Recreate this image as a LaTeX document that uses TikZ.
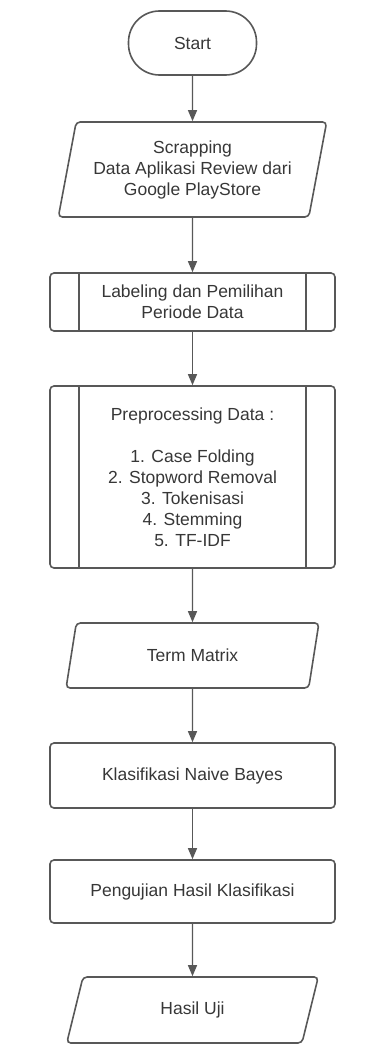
\documentclass[tikz,border=0pt]{standalone}
\usepackage{fontspec}
\setmainfont{Liberation Sans}
\usetikzlibrary{arrows.meta,shapes.geometric}
\definecolor{linec}{RGB}{88,88,88}
\definecolor{textc}{RGB}{55,55,55}

\begin{document}
\begin{tikzpicture}[x=1pt,y=1pt,font=\fontsize{17.5}{21}\selectfont,text=textc,
  >={Triangle[width=9pt,length=11pt]},
  term/.style={draw=linec,line width=1.6pt,rounded corners=31pt,minimum width=128pt,minimum height=64pt},
  io/.style={draw=linec,line width=1.6pt,trapezium,trapezium left angle=76,trapezium right angle=104,
             trapezium stretches=true,rounded corners=4pt,align=center,inner sep=2pt},
  proc/.style={draw=linec,line width=1.6pt,rounded corners=4pt,minimum width=285pt,align=center},
  sub/.style={proc,path picture={
     \draw[linec,line width=1.6pt]
       ([xshift=29pt]path picture bounding box.north west) -- ([xshift=29pt]path picture bounding box.south west)
       ([xshift=-29pt]path picture bounding box.north east) -- ([xshift=-29pt]path picture bounding box.south east);}},
  flow/.style={->,draw=linec,line width=1.3pt}]

\useasboundingbox (0,0) rectangle (368,-1057);

%============================== the flow ==============================
\node[term] (start) at (192.5,-43) {Start};
\node[io,minimum width=269pt,minimum height=95pt] (scrap) at (192.5,-169.5)
  {Scrapping\\Data Aplikasi Review dari\\Google PlayStore};
\node[sub,minimum height=58pt] (labeling) at (192.5,-302) {Labeling dan Pemilihan\\Periode Data};
\node[sub,minimum height=182pt] (prepro) at (192.5,-477) {Preprocessing Data :\\[21pt]
   1. Case Folding\\2. Stopword Removal\\3. Tokenisasi\\4. Stemming\\5. TF-IDF};
\node[io,minimum width=253pt,minimum height=65pt] (termmx) at (192.5,-655.5) {Term Matrix};
\node[proc,minimum height=65pt] (nbayes) at (192.5,-775.5) {Klasifikasi Naive Bayes};
\node[proc,minimum height=63pt] (uji) at (192.5,-891.5) {Pengujian Hasil Klasifikasi};
\node[io,minimum width=253pt,minimum height=66pt] (hasil) at (192.5,-1010) {Hasil Uji};

\draw[flow] (start) -- (scrap); \draw[flow] (scrap) -- (labeling);
\draw[flow] (labeling) -- (prepro); \draw[flow] (prepro) -- (termmx);
\draw[flow] (termmx) -- (nbayes); \draw[flow] (nbayes) -- (uji);
\draw[flow] (uji) -- (hasil);
\end{tikzpicture}
\end{document}
